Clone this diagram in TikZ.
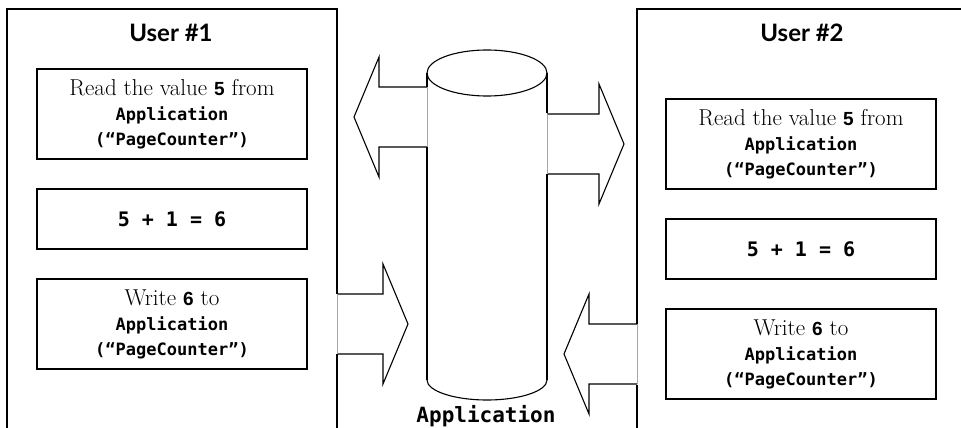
\documentclass[tikz,border=0pt]{standalone}
\usepackage{fontspec}
\usepackage{tikz}
\usetikzlibrary{positioning,calc}

\newfontfamily\titlefont{Lato}
\newfontfamily\codefont{DejaVu Sans Mono}
\newfontfamily\digitfont{Liberation Sans}
\newcommand{\code}[1]{{\codefont\bfseries\fontsize{17}{25}\selectfont #1}}
\newcommand{\digit}[1]{{\digitfont\bfseries\fontsize{19}{25}\selectfont #1}}

% block arrow from a base point to a tip point
\newcommand{\fatarrow}[2]{%
  \path ($(#2)!25pt!(#1)$) coordinate (neck);
  \draw[fat] ([yshift=30pt]#1) -- ([yshift=30pt]neck) -- ([yshift=60pt]neck) -- (#2)
    -- ([yshift=-60pt]neck) -- ([yshift=-30pt]neck) -- ([yshift=-30pt]#1);
  \draw[seam] ([yshift=30pt]#1) -- ([yshift=-30pt]#1);}

\begin{document}
\begin{tikzpicture}[x=1pt, y=-1pt, node distance=105pt,
    panel/.style={line width=1.5pt},
    fat/.style={line width=1.1pt, line join=miter},
    seam/.style={line width=0.6pt, gray!70},
    box/.style={rectangle, draw, line width=1.1pt, minimum width=270pt, align=center,
      font=\fontsize{23}{25}\selectfont},
    tall/.style={box, minimum height=90pt},
    short/.style={box, minimum height=60pt},
    title/.style={font=\titlefont\bfseries\fontsize{24}{28}\selectfont}]

    \useasboundingbox (0,0) rectangle (961,428);

    % the two users
    \draw[panel] (7,440) -- (7,9) -- (337,9) -- (337,294);
    \draw[panel] (337,354) -- (337,440);
    \draw[panel] (970,9) -- (637,9) -- (637,324);
    \draw[panel] (637,385) -- (637,440);

    \node[title] (u1title) at (171,33) {User \#1};
    \node[title] (u2title) at (802,33) {User \#2};

    \node[tall] (u1read) at (172,114) {Read the value \digit{5} from\\ \code{Application}\\ \code{(“PageCounter”)}};
    \node[short, below of=u1read] (u1add) {\code{\fontsize{20}{25}\selectfont 5 + 1 = 6}};
    \node[tall, below of=u1add] (u1write) {Write \digit{6} to\\ \code{Application}\\ \code{(“PageCounter”)}};

    \node[tall] (u2read) at (801,144) {Read the value \digit{5} from\\ \code{Application}\\ \code{(“PageCounter”)}};
    \node[short, below of=u2read] (u2add) {\code{\fontsize{20}{25}\selectfont 5 + 1 = 6}};
    \node[tall, below of=u2add] (u2write) {Write \digit{6} to\\ \code{Application}\\ \code{(“PageCounter”)}};

    % the Application store
    \draw[fat] (487,73) ellipse [x radius=60, y radius=23];
    \draw[fat] (427,73) -- (427,87);
    \draw[fat] (427,147) -- (427,380);
    \draw[fat] (547,73) -- (547,113);
    \draw[fat] (547,174) -- (547,380);
    \draw[fat] (427,380) .. controls (427,391) and (454,400) .. (487,400)
      .. controls (520,400) and (547,391) .. (547,380);
    \node[font=\codefont\bfseries\fontsize{21}{25}\selectfont] (applabel) at (486,416) {Application};

    \coordinate (r1base) at (427,117);  \coordinate (r1tip) at (354,117);
    \coordinate (r2base) at (547,144);  \coordinate (r2tip) at (624,144);
    \coordinate (w1base) at (337,324);  \coordinate (w1tip) at (408,324);
    \coordinate (w2base) at (637,354);  \coordinate (w2tip) at (564,354);

    \fatarrow{r1base}{r1tip}
    \fatarrow{r2base}{r2tip}
    \fatarrow{w1base}{w1tip}
    \fatarrow{w2base}{w2tip}
\end{tikzpicture}
\end{document}
